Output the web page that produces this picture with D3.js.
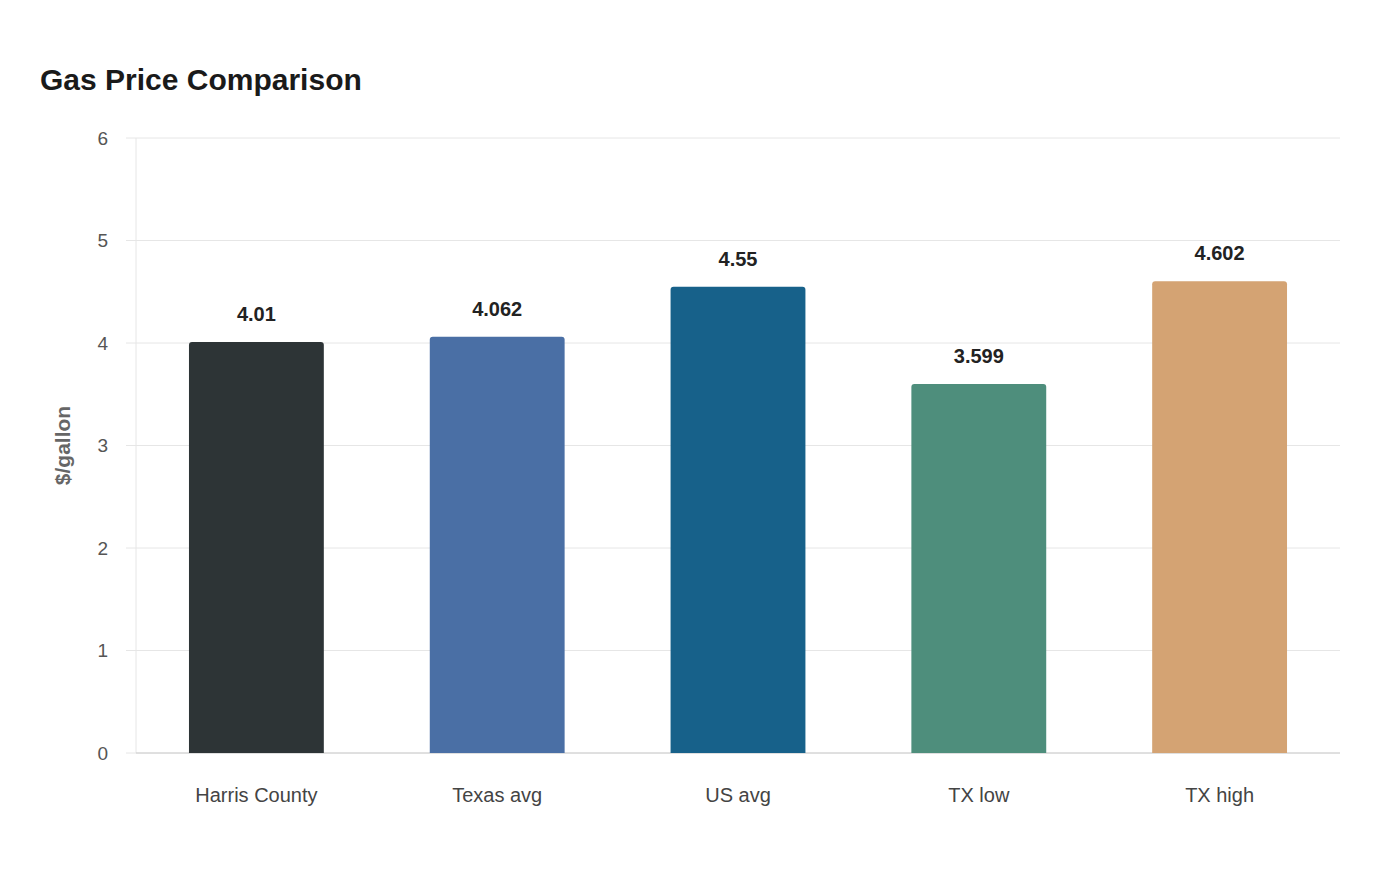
<!DOCTYPE html>
<html><head><meta charset="utf-8">
<script src="https://cdn.jsdelivr.net/npm/d3@7"></script>
<style>body{margin:0;background:#fff}</style>
</head><body>
<svg id="chart" width="1400" height="880"></svg>
<script>
const categories = ["Harris County", "Texas avg", "US avg", "TX low", "TX high"];
const prices = [4.01, 4.062, 4.55, 3.599, 4.602];
const colors = ["#2d3436", "#4a6fa5", "#17618a", "#4e8e7c", "#d4a373"];
const yTicks = [0, 1, 2, 3, 4, 5, 6];

const W = 1400, H = 880;
const m = { top: 138, right: 60, bottom: 127, left: 136 };
const iW = W - m.left - m.right, iH = H - m.top - m.bottom;
const font = "'Liberation Sans',Arial,sans-serif";

const svg = d3.select("#chart");
svg.append("text").attr("x", 40).attr("y", 90)
  .style("font-family", font).style("font-size", "30px").style("font-weight", "700").style("fill", "#1a1a1a")
  .text("Gas Price Comparison");

const g = svg.append("g").attr("transform", `translate(${m.left},${m.top})`);
const x = d3.scaleBand().domain(categories).range([0, iW]).paddingInner(0.44).paddingOuter(0.22);
const y = d3.scaleLinear().domain([0, 6]).range([iH, 0]);

// grid
g.append("g").selectAll("line").data(yTicks).join("line")
  .attr("x1", 0).attr("x2", iW).attr("y1", d => y(d)).attr("y2", d => y(d))
  .attr("stroke", "#e6e6e6");
g.append("line").attr("x1", 0).attr("x2", 0).attr("y1", 0).attr("y2", iH).attr("stroke", "#e6e6e6");
g.append("line").attr("x1", 0).attr("x2", iW).attr("y1", iH).attr("y2", iH).attr("stroke", "#ccc");

// y ticks
g.append("g").selectAll("text").data(yTicks).join("text")
  .attr("x", -28).attr("y", d => y(d)).attr("dy", "0.35em").attr("text-anchor", "end")
  .style("font-family", font).style("font-size", "19px").style("fill", "#555")
  .text(d => d);
g.selectAll(".tk").data(yTicks).join("line")
  .attr("x1", -10).attr("x2", 0).attr("y1", d => y(d)).attr("y2", d => y(d)).attr("stroke", "#e6e6e6");

svg.append("text").attr("transform", `translate(70,${m.top + iH / 2}) rotate(-90)`)
  .attr("text-anchor", "middle")
  .style("font-family", font).style("font-size", "21px").style("font-weight", "700").style("fill", "#666")
  .text("$/gallon");

// bars
const r = 3;
g.append("g").selectAll("path").data(prices).join("path")
  .attr("fill", (d, i) => colors[i])
  .attr("d", (d, i) => {
    const x0 = x(categories[i]), w = x.bandwidth(), y0 = y(d), y1 = y(0);
    return `M${x0},${y1}V${y0 + r}Q${x0},${y0} ${x0 + r},${y0}H${x0 + w - r}Q${x0 + w},${y0} ${x0 + w},${y0 + r}V${y1}Z`;
  });

g.append("g").selectAll("text").data(prices).join("text")
  .attr("x", (d, i) => x(categories[i]) + x.bandwidth() / 2).attr("y", d => y(d) - 21)
  .attr("text-anchor", "middle")
  .style("font-family", font).style("font-size", "20px").style("font-weight", "700").style("fill", "#222")
  .text(d => d);

// x labels
g.append("g").selectAll("text").data(categories).join("text")
  .attr("x", d => x(d) + x.bandwidth() / 2).attr("y", iH + 49)
  .attr("text-anchor", "middle")
  .style("font-family", font).style("font-size", "20px").style("fill", "#444")
  .text(d => d);
</script>
</body></html>
